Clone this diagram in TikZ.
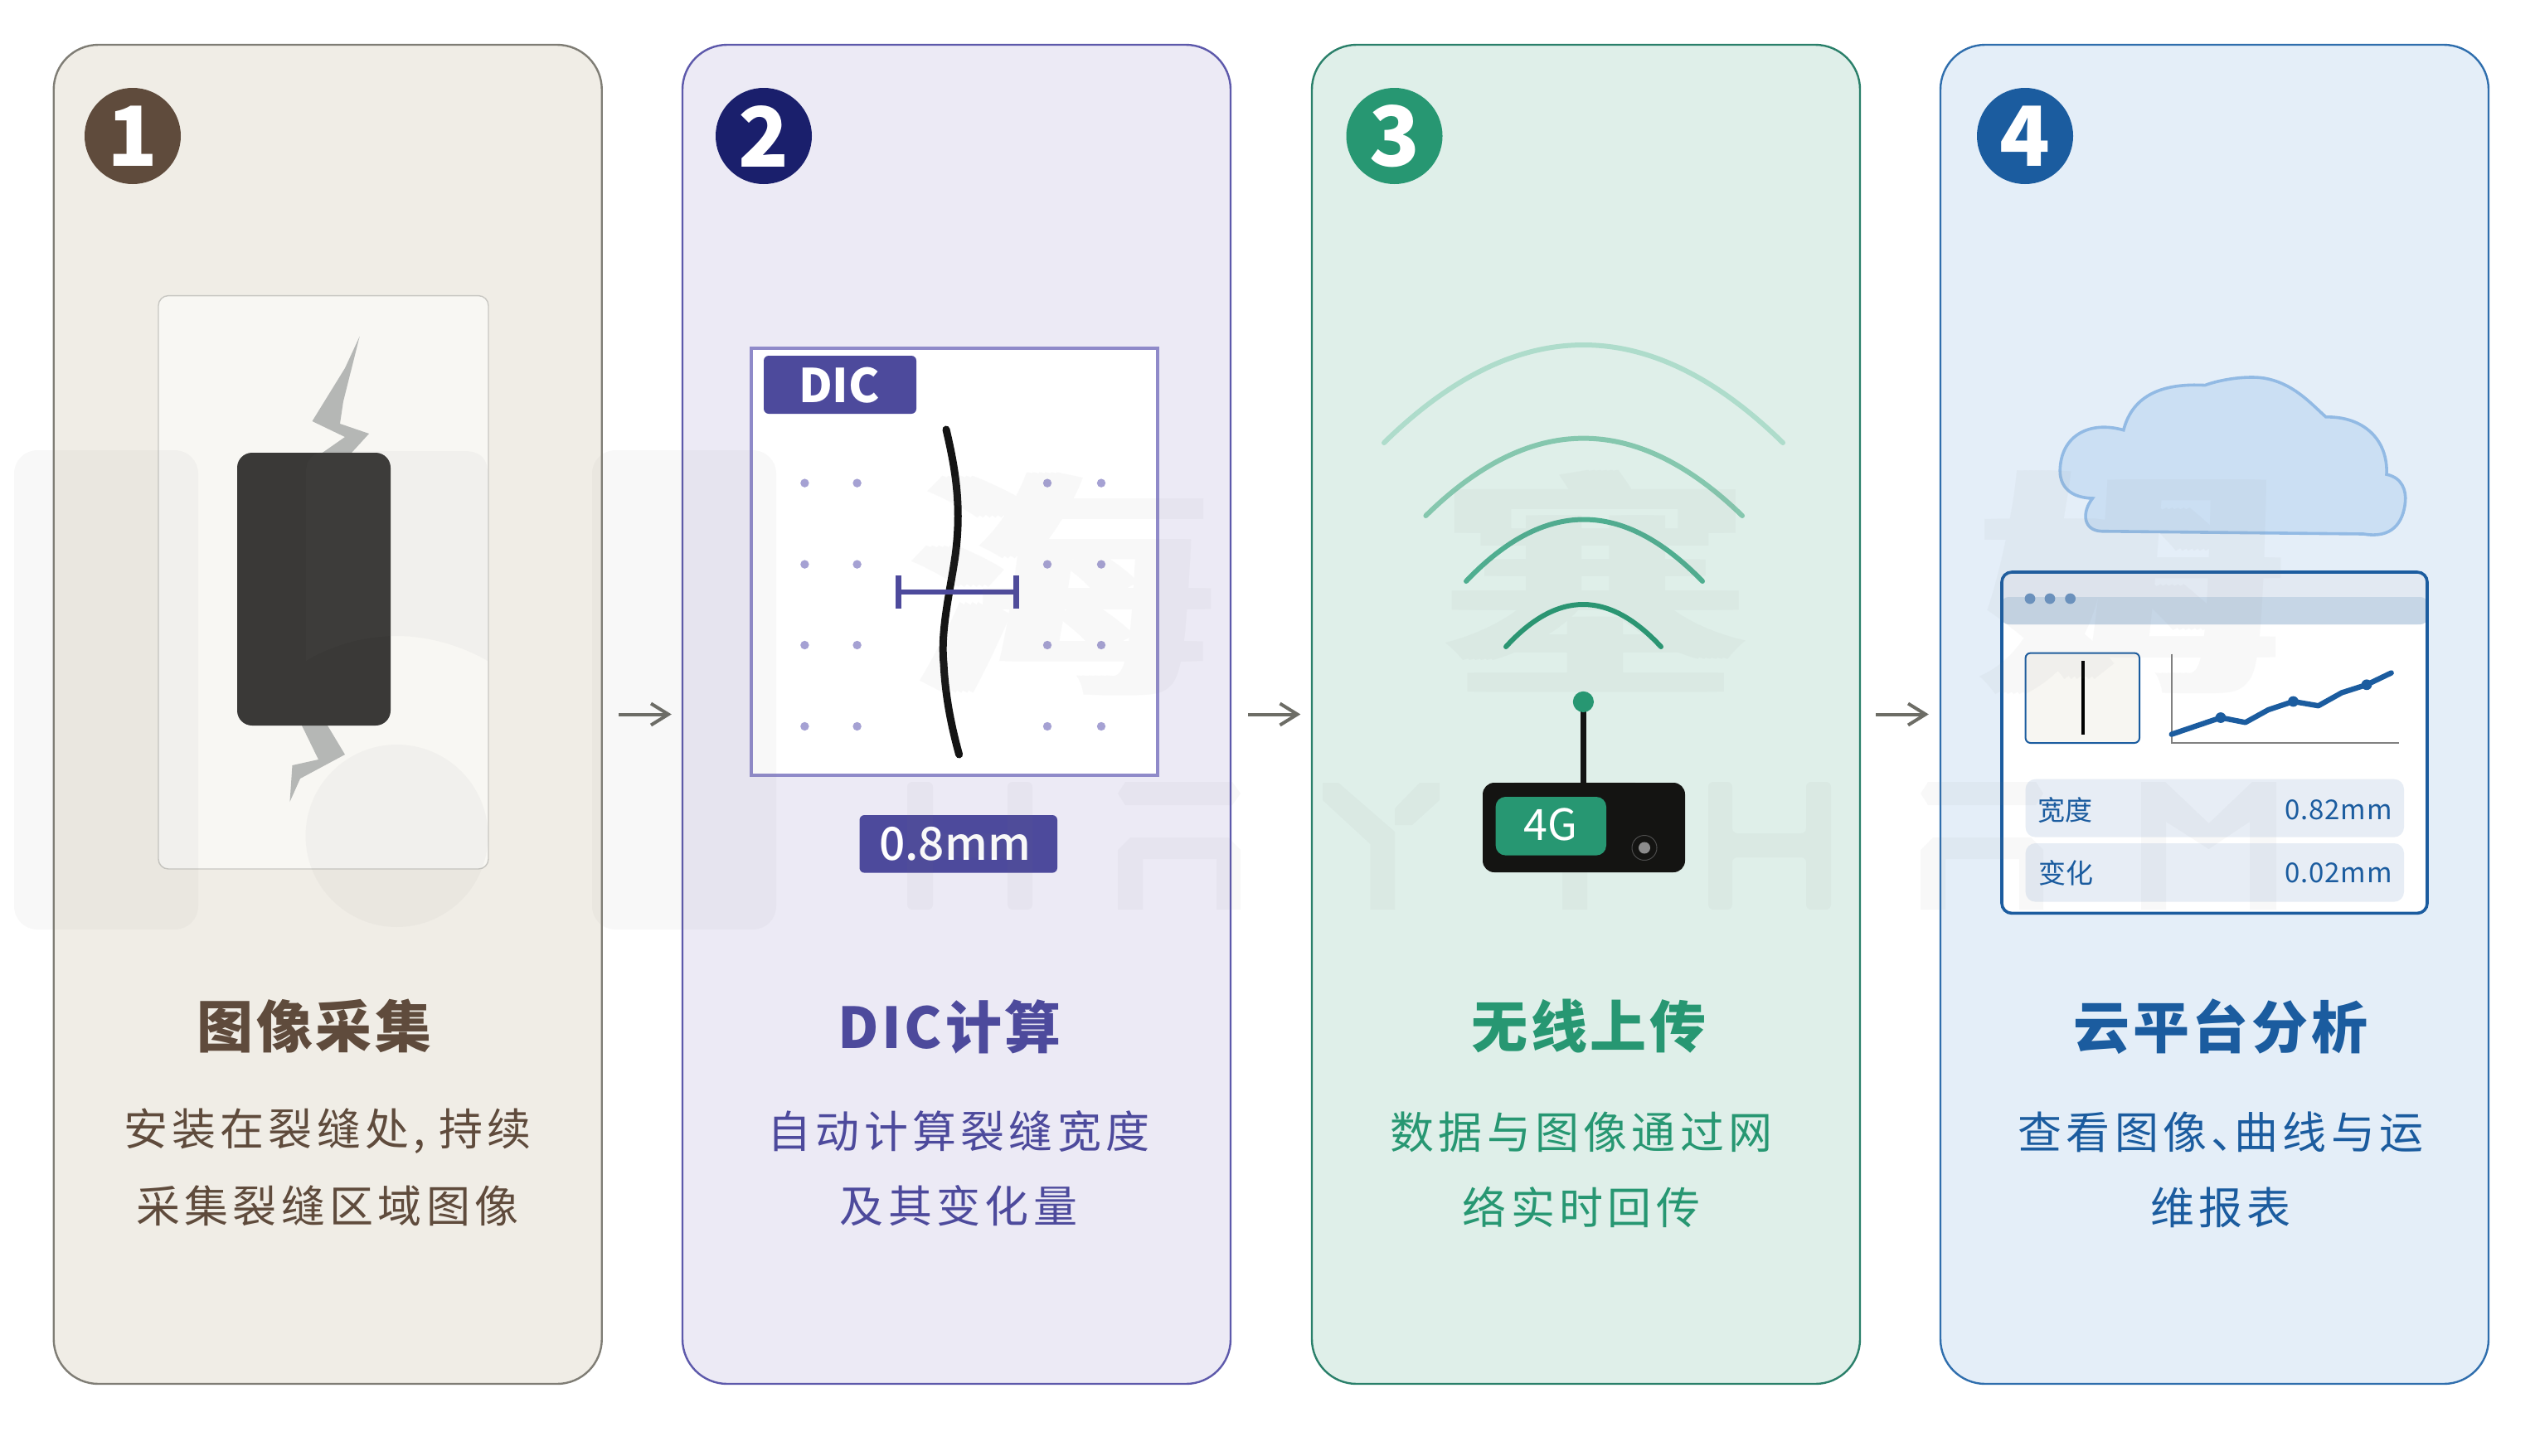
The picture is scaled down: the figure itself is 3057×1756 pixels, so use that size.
\documentclass[tikz,border=0pt]{standalone}
\usepackage{fontspec}
\usepackage{graphicx}
\usetikzlibrary{arrows.meta}
\setmainfont{Noto Sans CJK SC}
\newfontfamily\titlefont[LetterSpace=5.5]{Noto Sans CJK SC}
\newfontfamily\descfont[LetterSpace=10]{Noto Sans CJK SC}
\newfontfamily\valfont[LetterSpace=2.5]{Noto Sans CJK SC}
\newfontfamily\medfont{Noto Sans CJK SC Medium}
\newcommand{\smearglyph}[1]{\scalebox{1.2}[1]{\rlap{#1}\kern3pt\rlap{#1}\kern3pt\rlap{#1}\kern3pt\rlap{#1}\kern3pt\rlap{#1}\kern3pt#1}}
\definecolor{cbrown}{HTML}{5F4B3C}
\definecolor{cpurple}{HTML}{4D4A9C}
\definecolor{cnavy}{HTML}{1A1F6C}
\definecolor{cgreen}{HTML}{279772}
\definecolor{cblue}{HTML}{1B5C9F}
\definecolor{panelA}{HTML}{F0EDE6}
\definecolor{panelB}{HTML}{ECEAF5}
\definecolor{panelC}{HTML}{DFEFE9}
\definecolor{panelD}{HTML}{E4EEF8}
\definecolor{edgeA}{HTML}{7F7D75}
\definecolor{edgeB}{HTML}{5D59AB}
\definecolor{edgeC}{HTML}{2A806A}
\definecolor{edgeD}{HTML}{2F6EAD}
\definecolor{lightbox}{HTML}{F8F7F3}
\definecolor{lightedge}{HTML}{C8C7C2}
\definecolor{crackgray}{HTML}{B5B7B5}
\definecolor{sensor}{HTML}{3A3937}
\definecolor{dicedge}{HTML}{8F8AC9}
\definecolor{dicdotc}{HTML}{A5A1D3}
\definecolor{wifiA}{HTML}{AEDCCB}
\definecolor{wifiB}{HTML}{85C7AE}
\definecolor{wifiC}{HTML}{4FAE90}
\definecolor{device}{HTML}{141412}
\definecolor{cloudfill}{HTML}{CBDFF3}
\definecolor{cloudedge}{HTML}{92BAE4}
\definecolor{barA}{HTML}{E2E9F2}
\definecolor{barB}{HTML}{C6D6E6}
\definecolor{bardot}{HTML}{6A92C0}
\definecolor{thumb}{HTML}{F7F6F2}
\definecolor{rowfill}{HTML}{E7EDF5}
\definecolor{arrowc}{HTML}{6D6D66}
\tikzset{
  x=0.5pt,y=-0.5pt,
  panel/.style={draw,line width=1.2pt,rounded corners=27pt,minimum width=330.5pt,minimum height=807.5pt,inner sep=0pt},
  numdisc/.style={circle,minimum size=58pt,inner sep=0pt,text=white,font=\fontsize{50}{50}\selectfont\bfseries},
  ptitle/.style={inner sep=0pt,font=\titlefont\fontsize{34}{34}\selectfont\bfseries},
  pdesc/.style={inner sep=0pt,font=\descfont\fontsize{26.5}{26.5}\selectfont},
  flow/.style={draw=arrowc,line width=2pt,-{Straight Barb[length=10.5pt,width=13pt]}},
  wm/.style={fill=black!50,opacity=0.05},
  wmchar/.style={inner sep=0pt,text=black!50,font=\medfont\fontsize{146}{146}\selectfont},
  tagbox/.style={fill=cpurple,rounded corners=3pt},
  dicdot/.style={fill=dicdotc},
  wifi/.style={line width=3pt,line cap=round},
  rowbox/.style={fill=rowfill,rounded corners=6pt},
  rowkey/.style={inner sep=0pt,text=cblue,font=\fontsize{16.5}{16.5}\selectfont},
  rowval/.style={inner sep=0pt,anchor=east,text=cblue,font=\valfont\fontsize{16.5}{16.5}\selectfont},
}
\begin{document}
\begin{tikzpicture}
\useasboundingbox[fill=white] (0,0) rectangle (3057,1756);

% panels
\node[panel,draw=edgeA,fill=panelA] (p1) at (395.25,861.5) {};
\node[panel,draw=edgeB,fill=panelB] (p2) at (1153.5,861.5) {};
\node[panel,draw=edgeC,fill=panelC] (p3) at (1912.5,861.5) {};
\node[panel,draw=edgeD,fill=panelD] (p4) at (2670.5,861.5) {};

% flow arrows
\draw[flow,shorten <=9.75pt,shorten >=6pt] (p1.east) -- (p2.west);
\draw[flow,shorten <=10pt,shorten >=6.25pt] (p2.east) -- (p3.west);
\draw[flow,shorten <=9pt,shorten >=6.5pt] (p3.east) -- (p4.west);

% number discs
\node[numdisc,fill=cbrown] (n1) at (160,164) {1};
\node[numdisc,fill=cnavy] (n2) at (921,164) {2};
\node[numdisc,fill=cgreen] (n3) at (1681.5,164) {3};
\node[numdisc,fill=cblue] (n4) at (2442,164) {4};

% panel 1 illustration
\draw[draw=lightedge,fill=lightbox,line width=0.7pt,rounded corners=6pt] (191,356.6) rectangle (589,1048);
\fill[crackgray] (433.7,405.7) -- (416,444) -- (376.5,508) -- (416,527) -- (388,546.6) -- (423.5,546.6) -- (445,523) -- (410,511) -- (414,484) -- cycle;
\fill[crackgray] (364,875) -- (384,916) -- (352.5,923) -- (349.5,967) -- (362,939) -- (416,910) -- (395,875) -- cycle;
\fill[sensor,rounded corners=9pt] (286,546) rectangle (471,875);

% panel 2 illustration
\draw[draw=dicedge,fill=white,line width=1.8pt] (906,420) rectangle (1396,935);
\fill[tagbox] (921,429) rectangle (1105,499);
\node[inner sep=0pt,text=white,font=\fontsize{28}{28}\selectfont\bfseries] (dictag) at (1012,465) {DIC};
\foreach \px in {970.4,1033.6,1263,1328}
  \foreach \py in {582.6,680.6,778,876}
    \fill[dicdot] (\px,\py) circle[radius=2.6pt];
\draw[line width=4.5pt,line cap=round,draw=black!92] (1141,518) .. controls (1152,565) and (1160,610) .. (1152,670) .. controls (1146,712) and (1134,760) .. (1138,800) .. controls (1140,840) and (1147,875) .. (1156.6,910);
\draw[draw=cpurple,line width=2.6pt] (1083,714) -- (1225,714);
\draw[draw=cpurple,line width=3.5pt] (1083,694) -- (1083,734);
\draw[draw=cpurple,line width=3.5pt] (1225,694) -- (1225,734);
\fill[tagbox] (1036.5,983) rectangle (1275,1052.6);
\node[inner sep=0pt,text=white,font=\medfont\fontsize{27.5}{27.5}\selectfont] (dicval) at (1151.5,1018) {0.8mm};

% panel 3 illustration
\draw[wifi,draw=wifiA] (1669,534) .. controls (1829.3,376.7) and (1989.7,376.7) .. (2150,534);
\draw[wifi,draw=wifiB] (1719.4,622) .. controls (1845.8,497.5) and (1973,497.5) .. (2101,622);
\draw[wifi,draw=wifiC] (1768,701) .. controls (1862.7,601.7) and (1957,601.7) .. (2053,701);
\draw[wifi,draw=cgreen] (1816,780) .. controls (1878,712) and (1940,712) .. (2003,780);

% panel 4 illustration
\draw[fill=cloudfill,draw=cloudedge,line width=1.8pt]
  (2560.8,518.7) .. controls (2572,475) and (2610,462) .. (2658.9,464.6) .. controls (2680,457) and (2710,453) .. (2730,456) .. controls (2765,462) and (2785,485) .. (2804.8,502.9) .. controls (2850,502) and (2880,530) .. (2878,572.2) .. controls (2897,576) and (2902,592) .. (2900.5,605.7) .. controls (2898,630) and (2885,650) .. (2850.2,644) -- (2534.4,640.7) .. controls (2512,640) and (2510,618) .. (2523.4,601) .. controls (2490,600) and (2484,580) .. (2484.2,567.5) .. controls (2485,525) and (2520,507) .. (2560.8,518.7) -- cycle;
\fill[white,rounded corners=6pt] (2414,690) rectangle (2927,1101.4);
\fill[barA,rounded corners=6pt] (2414,690) rectangle (2927,753);
\fill[barB,rounded corners=4pt] (2414,720) rectangle (2927,753);
\draw[draw=cblue,line width=1.8pt,rounded corners=6pt] (2414,690) rectangle (2927,1101.4);
\foreach \px in {2448,2472,2496.6}
  \fill[bardot] (\px,722) circle[radius=3.2pt];
\draw[draw=cblue,fill=thumb,line width=1pt,rounded corners=3pt] (2442.6,787.6) rectangle (2580,896);
\draw[black,line width=2pt] (2511.5,797) -- (2511.5,885.6);
\draw[draw=black!50,line width=1pt] (2618.7,788.5) -- (2618.7,896) -- (2893,896);
\draw[draw=cblue,line width=3.2pt,line cap=round,line join=round] (2618.7,885.6) -- (2678,865.5) -- (2707.7,871.3) -- (2735.4,856) -- (2765.5,846) -- (2795.7,851.2) -- (2824,835.4) -- (2854,825.8) -- (2883.7,811.5);
\foreach \px/\py in {2678/865.5,2765.5/846,2854/825.8}
  \fill[cblue] (\px,\py) circle[radius=3.2pt];
\fill[rowbox] (2442.6,939.7) rectangle (2899,1009.6);
\fill[rowbox] (2442.6,1017) rectangle (2899,1087.6);

% watermark: logo
\fill[wm,rounded corners=14pt] (17,543) rectangle (239,1121);
\fill[wm,rounded corners=14pt] (714,543) rectangle (936,1121);
\fill[wm] (369,570) .. controls (369,552) and (380,544) .. (397,544) -- (560,544) .. controls (578,544) and (588,552) .. (588,570) -- (588,797) .. controls (555,778) and (515,767) .. (478,767) .. controls (440,767) and (400,778) .. (369,797) -- cycle;
\fill[wm] (478.5,1008) circle[radius=55pt];
% watermark: characters
\begin{scope}[transparency group,opacity=0.05]
\node[wmchar] (wm1) at (1278.5,705) {\smearglyph{海}};
\node[wmchar] (wm2) at (1924,701) {\smearglyph{塞}};
\node[wmchar] (wm3) at (2570,703) {\smearglyph{姆}};
\end{scope}
% watermark: HAYTHAM
\fill[wm,rounded corners=3pt] (1094,943) -- (1125,943) -- (1125,1005) -- (1215,1005) -- (1215,943) -- (1245,943) -- (1245,1097) -- (1215,1097) -- (1215,1034) -- (1125,1034) -- (1125,1097) -- (1094,1097) -- cycle;
\fill[wm] (1357,943) -- (1486,943) -- (1496,957) -- (1486,971) -- (1357,971) -- (1348,957) -- cycle;
\fill[wm] (1348,1097) -- (1348,1025) -- (1363,1010) -- (1481,1010) -- (1496,1025) -- (1496,1097) -- (1467,1097) -- (1467,1036) -- (1378,1036) -- (1378,1097) -- cycle;
\fill[wm] (1595,944) -- (1614,944) -- (1682,1003) -- (1682,1097) -- (1652.4,1097) -- (1652.4,1018) -- (1595,965) -- cycle;
\fill[wm] (1682,975) -- (1712,944) -- (1736,944) -- (1736,965) -- (1703,995) -- (1682,995) -- cycle;
\fill[wm] (1826,943) -- (1972,943) -- (1972,971) -- (1914,971) -- (1914,1097) -- (1884,1097) -- (1884,971) -- (1826,971) -- cycle;
\fill[wm,rounded corners=3pt] (2060,943) -- (2089,943) -- (2089,1005) -- (2178,1005) -- (2178,943) -- (2208,943) -- (2208,1097) -- (2178,1097) -- (2178,1034) -- (2089,1034) -- (2089,1097) -- (2060,1097) -- cycle;
\fill[wm] (2325,943) -- (2455,943) -- (2464,957) -- (2455,971) -- (2325,971) -- (2316,957) -- cycle;
\fill[wm] (2316,1097) -- (2316,1025) -- (2331,1010) -- (2449,1010) -- (2464,1025) -- (2464,1097) -- (2435,1097) -- (2435,1036) -- (2346,1036) -- (2346,1097) -- cycle;
\fill[wm] (2582,1097) -- (2582,943) -- (2611,943) -- (2663.6,993) -- (2716,943) -- (2745,943) -- (2745,1097) -- (2713,1097) -- (2713,991) -- (2663.6,1024) -- (2612,991) -- (2612,1097) -- cycle;

% device on top of watermark
\draw[line width=3.2pt,draw=black!92] (1909.5,846.4) -- (1909.5,944);
\fill[cgreen] (1909.4,846.4) circle[radius=6.3pt];
\fill[device,rounded corners=7pt] (1788,944) rectangle (2032,1052);
\fill[cgreen,rounded corners=6pt] (1803.6,961) rectangle (1937,1031.6);
\node[inner sep=0pt,text=white,font=\fontsize{26}{26}\selectfont] (fourg) at (1870,994) {4G};
\draw[draw=black!70,line width=0.5pt] (1983,1022.5) circle[radius=7.5pt];
\fill[black!45] (1983,1022.5) circle[radius=3.5pt];

% window row text
\node[rowkey] (k1) at (2490.8,977) {宽度};
\node[rowval] (v1) at (2885,977) {0.82mm};
\node[rowkey] (k2) at (2491.5,1053) {变化};
\node[rowval] (v2) at (2885,1053) {0.02mm};

% titles and descriptions
\node[ptitle,text=cbrown] (t1) at (379,1238) {图像采集};
\node[pdesc,text=cbrown] (d1a) at (395,1364) {安装在裂缝处,\kern8pt持续};
\node[pdesc,text=cbrown] (d1b) at (395,1454) {采集裂缝区域图像};
\node[ptitle,text=cpurple] (t2) at (1145,1238) {DIC计算};
\node[pdesc,text=cpurple] (d2a) at (1156,1364) {自动计算裂缝宽度};
\node[pdesc,text=cpurple] (d2b) at (1156,1454) {及其变化量};
\node[ptitle,text=cgreen] (t3) at (1916,1238) {无线上传};
\node[pdesc,text=cgreen] (d3a) at (1907,1365) {数据与图像通过网};
\node[pdesc,text=cgreen] (d3b) at (1907,1456) {络实时回传};
\node[ptitle,text=cblue] (t4) at (2678,1238) {云平台分析};
\node[pdesc,text=cblue] (d4a) at (2678,1365) {查看图像、\kern-12.5pt曲线与运};
\node[pdesc,text=cblue] (d4b) at (2678,1456) {维报表};
\end{tikzpicture}
\end{document}
